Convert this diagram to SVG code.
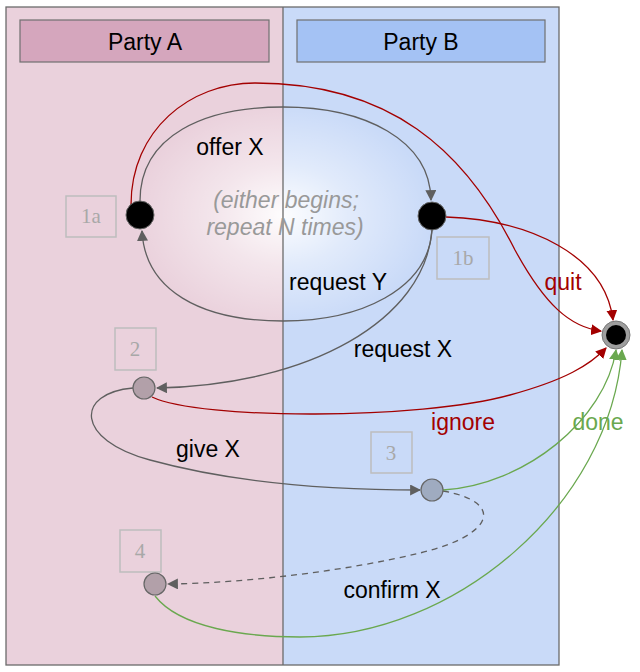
<svg xmlns="http://www.w3.org/2000/svg" width="640" height="672" viewBox="0 0 640 672">
<style>
.lbl{font-family:"Liberation Sans",Arial,sans-serif;font-size:23px;text-anchor:middle}
.it{font-family:"Liberation Sans",Arial,sans-serif;font-size:23px;font-style:italic;fill:#999;text-anchor:middle}
.num{font-family:"Liberation Serif","DejaVu Serif",serif;font-size:21px;fill:#a8a8a8;text-anchor:middle}
.nbox{fill:none;stroke:#bdbdbd;stroke-width:1.5}
.e{fill:none;stroke-width:1.3}
.g{stroke:#5f5f5f}
.r{stroke:#a30000}
.gr{stroke:#6aa84f}
.st{fill:#000;stroke:#666;stroke-width:1}
</style>
<defs>
<radialGradient id="glow" cx="283" cy="215" r="150" gradientUnits="userSpaceOnUse" gradientTransform="translate(283 215) scale(1 0.75) translate(-283 -215)">
<stop offset="0" stop-color="#fff" stop-opacity="0.95"/>
<stop offset="0.45" stop-color="#fff" stop-opacity="0.45"/>
<stop offset="1" stop-color="#fff" stop-opacity="0"/>
</radialGradient>
<marker id="ag" viewBox="0 0 10 10" refX="9" refY="5" markerWidth="11" markerHeight="11" markerUnits="userSpaceOnUse" orient="auto"><path d="M0,0 L10,5 L0,10 z" fill="#5f5f5f"/></marker>
<marker id="ar" viewBox="0 0 10 10" refX="9" refY="5" markerWidth="11" markerHeight="11" markerUnits="userSpaceOnUse" orient="auto"><path d="M0,0 L10,5 L0,10 z" fill="#a30000"/></marker>
<marker id="agr" viewBox="0 0 10 10" refX="9" refY="5" markerWidth="11" markerHeight="11" markerUnits="userSpaceOnUse" orient="auto"><path d="M0,0 L10,5 L0,10 z" fill="#6aa84f"/></marker>
</defs>
<g id="lanes">
<rect x="6" y="7" width="277" height="658" fill="#ead1dc"/>
<rect x="283" y="7" width="276" height="658" fill="#c9daf8"/>
<ellipse cx="283" cy="215" rx="150" ry="112" fill="url(#glow)"/>
<rect x="6" y="7" width="553" height="658" fill="none" stroke="#6b6b6b" stroke-width="1.3"/>
<line x1="283" y1="7" x2="283" y2="665" stroke="#6b6b6b" stroke-width="1.3"/>
</g>
<g id="partyA"><rect x="20" y="20" width="249" height="42" fill="#d5a6bd" stroke="#707070" stroke-width="1.2"/><text class="lbl" x="145" y="50">Party A</text></g>
<g id="partyB"><rect x="297" y="20" width="248" height="42" fill="#a4c2f4" stroke="#707070" stroke-width="1.2"/><text class="lbl" x="421" y="50">Party B</text></g>
<text class="it" x="286" y="208">(either begins;</text>
<text class="it" x="285" y="235">repeat N times)</text>
<g id="connectors">
<path class="e g" d="M140,201 C140,135 205,107 283,107 C365,107 430,140 431,200" marker-end="url(#ag)"/>
<path class="e g" d="M432,230 C428,290 360,321 283,321 C200,321 145,290 142,231" marker-end="url(#ag)"/>
<path class="e g" d="M432,230 C425,320 310,385 157,388" marker-end="url(#ag)"/>
<path class="e r" d="M131,205 C131,130 190,83 255,83 C390,83 465,150 515,250 C545,305 570,327 601,331" marker-end="url(#ar)"/>
<path class="e r" d="M446,217 C530,220 605,255 613,320" marker-end="url(#ar)"/>
<path class="e r" d="M152,397 C200,420 420,420 510,395 C565,380 590,365 606,348" marker-end="url(#ar)"/>
<path class="e g" d="M133,388 C75,393 75,440 150,460 C230,482 330,490 420,490" marker-end="url(#ag)"/>
<path class="e g" d="M443,491 C505,502 495,535 420,553 C350,570 250,583 168,584" stroke-dasharray="6,5" marker-end="url(#ag)"/>
<path class="e gr" d="M443,490 C525,485 605,420 616,350" marker-end="url(#agr)"/>
<path class="e gr" d="M155,596 C180,628 245,637 300,637 C455,637 610,505 622,350" marker-end="url(#agr)"/>
</g>
<g id="edgeLabels">
<text class="lbl" x="230" y="155">offer X</text>
<text class="lbl" x="338" y="290">request Y</text>
<text class="lbl" x="403" y="357">request X</text>
<text class="lbl" x="563" y="290" fill="#a30000">quit</text>
<text class="lbl" x="463" y="430" fill="#a30000">ignore</text>
<text class="lbl" x="598" y="430" fill="#6aa84f">done</text>
<text class="lbl" x="208" y="457">give X</text>
<text class="lbl" x="392" y="598">confirm X</text>
</g>
<g id="n1a"><rect class="nbox" x="66" y="196" width="50" height="41"/><text class="num" x="91" y="223">1a</text><circle class="st" cx="140" cy="215" r="14"/></g>
<g id="n1b"><rect class="nbox" x="437" y="237" width="52" height="42"/><text class="num" x="463" y="265">1b</text><circle class="st" cx="432" cy="216" r="14"/></g>
<g id="nEnd"><circle cx="616" cy="335" r="14" fill="#9e9e9e" stroke="#777" stroke-width="1"/><circle cx="616" cy="335" r="10" fill="#000"/></g>
<g id="n2"><rect class="nbox" x="115" y="328" width="41" height="42"/><text class="num" x="135" y="356">2</text><circle cx="144" cy="388" r="11" fill="#b2a0a9" stroke="#666" stroke-width="1.2"/></g>
<g id="n3"><rect class="nbox" x="371" y="432" width="41" height="41"/><text class="num" x="391" y="460">3</text><circle cx="432" cy="490" r="11" fill="#9fabc0" stroke="#666" stroke-width="1.2"/></g>
<g id="n4"><rect class="nbox" x="120" y="530" width="41" height="42"/><text class="num" x="140" y="558">4</text><circle cx="155" cy="584" r="11" fill="#b2a0a9" stroke="#666" stroke-width="1.2"/></g>
</svg>
